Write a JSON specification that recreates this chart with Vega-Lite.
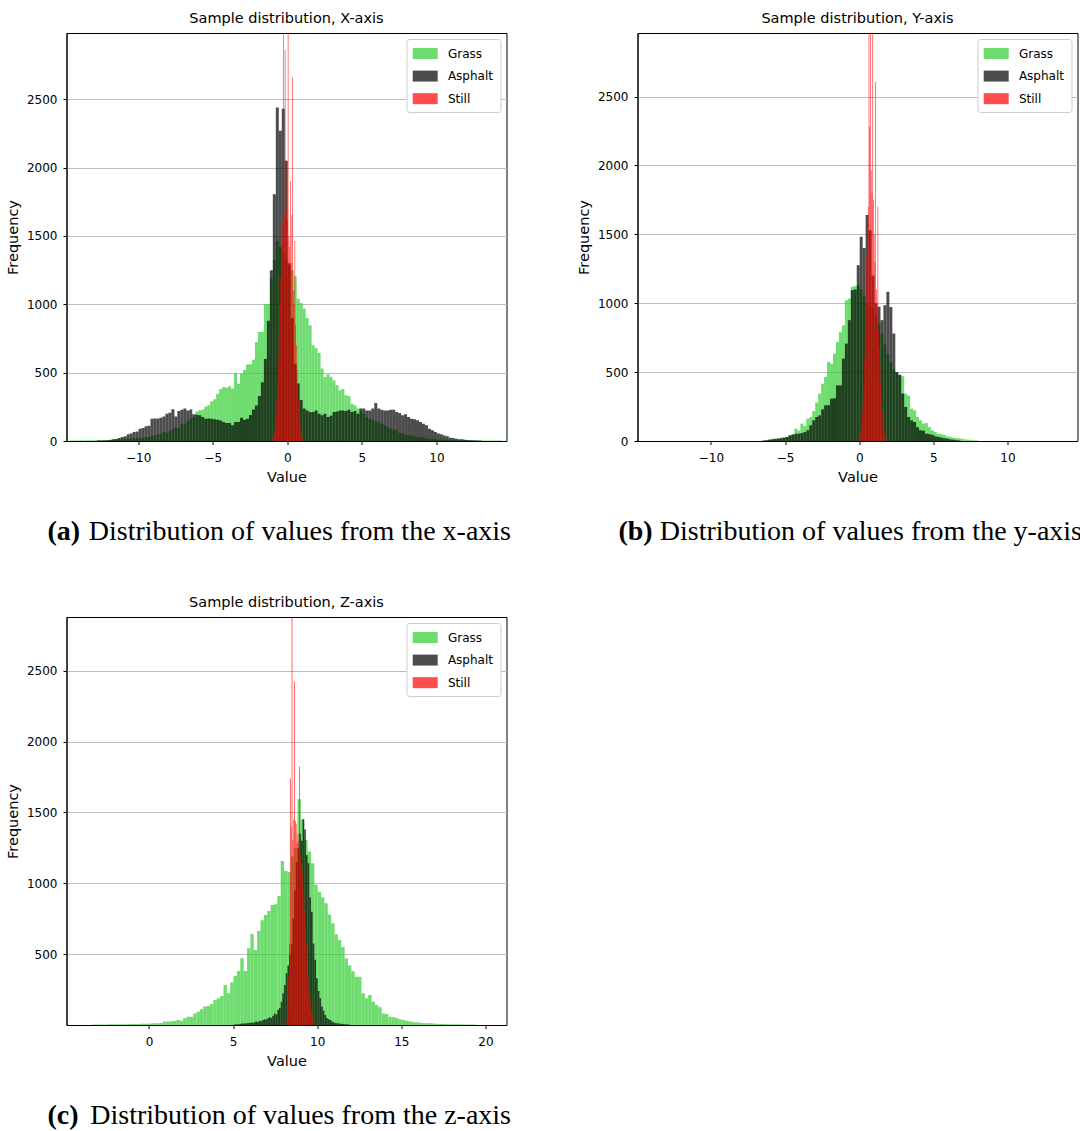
{
  "$schema": "https://vega.github.io/schema/vega-lite/v6.json",
  "background": "white",
  "padding": {"left": 4.5, "top": 10, "right": 0, "bottom": 0},
  "config": {
    "font": "DejaVu Sans",
    "view": {"stroke": "black", "strokeWidth": 1},
    "axis": {"labelFont": "DejaVu Sans", "labelFontSize": 12, "labelColor": "black", "titleFont": "DejaVu Sans", "titleFontSize": 14.5, "titleFontWeight": "normal", "titleColor": "black", "tickColor": "black", "tickSize": 3.5, "tickWidth": 1, "domain": true, "domainColor": "black", "domainWidth": 1, "zindex": 1},
    "axisX": {"grid": false, "labelPadding": 8, "titlePadding": 7},
    "axisY": {"grid": true, "gridColor": "#bdbdbd", "gridWidth": 1, "labelPadding": 6, "titlePadding": 6},
    "title": {"font": "DejaVu Sans", "fontSize": 14.5, "fontWeight": "normal", "color": "black", "offset": 7},
    "legend": {"orient": "top-right", "offset": 6, "fillColor": "white", "strokeColor": "#cccccc", "strokeWidth": 1, "cornerRadius": 3, "padding": 7, "labelFont": "DejaVu Sans", "labelFontSize": 12, "labelColor": "black", "symbolType": "M-1.667,-0.733H1.667V0.733H-1.667Z", "symbolSize": 225, "symbolStrokeWidth": 0, "symbolOpacity": 0.7, "rowPadding": 8.6, "labelOffset": 15.2, "symbolOffset": 4.2, "zindex": 2}
  },
  "datasets": {
    "a": [
      {"s":"G","x":-14.6,"n":3},{"s":"G","x":-14.4,"n":4},{"s":"G","x":-14.2,"n":3},{"s":"G","x":-14.0,"n":5},{"s":"G","x":-13.8,"n":4},{"s":"G","x":-13.6,"n":5},{"s":"G","x":-13.4,"n":6},{"s":"G","x":-13.2,"n":5},{"s":"G","x":-13.0,"n":6},{"s":"G","x":-12.8,"n":7},{"s":"G","x":-12.6,"n":6},{"s":"G","x":-12.4,"n":8},{"s":"G","x":-12.2,"n":8},{"s":"G","x":-12.0,"n":9},{"s":"G","x":-11.8,"n":10},{"s":"G","x":-11.6,"n":11},{"s":"G","x":-11.4,"n":12},{"s":"G","x":-11.2,"n":13},{"s":"G","x":-11.0,"n":15},{"s":"G","x":-10.8,"n":17},{"s":"G","x":-10.6,"n":18},{"s":"G","x":-10.4,"n":20},{"s":"G","x":-10.2,"n":22},{"s":"G","x":-10.0,"n":25},{"s":"G","x":-9.8,"n":25},{"s":"G","x":-9.6,"n":28},{"s":"G","x":-9.4,"n":30},{"s":"G","x":-9.2,"n":40},{"s":"G","x":-9.0,"n":42},{"s":"G","x":-8.8,"n":50},{"s":"G","x":-8.6,"n":52},{"s":"G","x":-8.4,"n":65},{"s":"G","x":-8.2,"n":58},{"s":"G","x":-8.0,"n":75},{"s":"G","x":-7.8,"n":90},{"s":"G","x":-7.6,"n":100},{"s":"G","x":-7.4,"n":95},{"s":"G","x":-7.2,"n":127},{"s":"G","x":-7.0,"n":122},{"s":"G","x":-6.8,"n":150},{"s":"G","x":-6.6,"n":165},{"s":"G","x":-6.4,"n":175},{"s":"G","x":-6.2,"n":215},{"s":"G","x":-6.0,"n":225},{"s":"G","x":-5.8,"n":228},{"s":"G","x":-5.6,"n":250},{"s":"G","x":-5.4,"n":262},{"s":"G","x":-5.2,"n":290},{"s":"G","x":-5.0,"n":305},{"s":"G","x":-4.8,"n":345},{"s":"G","x":-4.6,"n":380},{"s":"G","x":-4.4,"n":395},{"s":"G","x":-4.2,"n":390},{"s":"G","x":-4.0,"n":400},{"s":"G","x":-3.8,"n":385},{"s":"G","x":-3.6,"n":498},{"s":"G","x":-3.4,"n":418},{"s":"G","x":-3.2,"n":493},{"s":"G","x":-3.0,"n":520},{"s":"G","x":-2.8,"n":560},{"s":"G","x":-2.6,"n":562},{"s":"G","x":-2.4,"n":595},{"s":"G","x":-2.2,"n":725},{"s":"G","x":-2.0,"n":798},{"s":"G","x":-1.8,"n":798},{"s":"G","x":-1.6,"n":1000},{"s":"G","x":-1.4,"n":1000},{"s":"G","x":-1.2,"n":1188},{"s":"G","x":-1.0,"n":1322},{"s":"G","x":-0.8,"n":1464},{"s":"G","x":-0.6,"n":1420},{"s":"G","x":-0.4,"n":1380},{"s":"G","x":-0.2,"n":1330},{"s":"G","x":0.0,"n":1286},{"s":"G","x":0.2,"n":1250},{"s":"G","x":0.4,"n":1205},{"s":"G","x":0.6,"n":1041},{"s":"G","x":0.8,"n":1010},{"s":"G","x":1.0,"n":969},{"s":"G","x":1.2,"n":900},{"s":"G","x":1.4,"n":847},{"s":"G","x":1.6,"n":700},{"s":"G","x":1.8,"n":680},{"s":"G","x":2.0,"n":644},{"s":"G","x":2.2,"n":530},{"s":"G","x":2.4,"n":468},{"s":"G","x":2.6,"n":488},{"s":"G","x":2.8,"n":470},{"s":"G","x":3.0,"n":444},{"s":"G","x":3.2,"n":407},{"s":"G","x":3.4,"n":371},{"s":"G","x":3.6,"n":380},{"s":"G","x":3.8,"n":334},{"s":"G","x":4.0,"n":330},{"s":"G","x":4.2,"n":273},{"s":"G","x":4.4,"n":261},{"s":"G","x":4.6,"n":237},{"s":"G","x":4.8,"n":224},{"s":"G","x":5.0,"n":200},{"s":"G","x":5.2,"n":176},{"s":"G","x":5.4,"n":163},{"s":"G","x":5.6,"n":158},{"s":"G","x":5.8,"n":145},{"s":"G","x":6.0,"n":140},{"s":"G","x":6.2,"n":127},{"s":"G","x":6.4,"n":115},{"s":"G","x":6.6,"n":100},{"s":"G","x":6.8,"n":90},{"s":"G","x":7.0,"n":88},{"s":"G","x":7.2,"n":78},{"s":"G","x":7.4,"n":60},{"s":"G","x":7.6,"n":54},{"s":"G","x":7.8,"n":45},{"s":"G","x":8.0,"n":42},{"s":"G","x":8.2,"n":41},{"s":"G","x":8.4,"n":35},{"s":"G","x":8.6,"n":30},{"s":"G","x":8.8,"n":29},{"s":"G","x":9.0,"n":25},{"s":"G","x":9.2,"n":20},{"s":"G","x":9.4,"n":17},{"s":"G","x":9.6,"n":15},{"s":"G","x":9.8,"n":12},{"s":"G","x":10.0,"n":10},{"s":"G","x":10.2,"n":10},{"s":"G","x":10.4,"n":8},{"s":"G","x":10.6,"n":8},{"s":"G","x":10.8,"n":7},{"s":"G","x":11.0,"n":6},{"s":"G","x":11.2,"n":6},{"s":"G","x":11.4,"n":5},{"s":"G","x":11.6,"n":5},{"s":"G","x":11.8,"n":5},{"s":"G","x":12.0,"n":4},{"s":"G","x":12.2,"n":4},{"s":"G","x":12.4,"n":4},{"s":"G","x":12.6,"n":3},{"s":"G","x":12.8,"n":3},{"s":"G","x":13.0,"n":3},{"s":"G","x":13.2,"n":3},{"s":"G","x":13.4,"n":3},{"s":"G","x":13.6,"n":3},{"s":"G","x":13.8,"n":3},{"s":"G","x":14.0,"n":3},{"s":"G","x":14.2,"n":3},
      {"s":"A","x":-12.8,"n":3},{"s":"A","x":-12.6,"n":3},{"s":"A","x":-12.4,"n":4},{"s":"A","x":-12.2,"n":6},{"s":"A","x":-12.0,"n":8},{"s":"A","x":-11.8,"n":12},{"s":"A","x":-11.6,"n":15},{"s":"A","x":-11.4,"n":22},{"s":"A","x":-11.2,"n":30},{"s":"A","x":-11.0,"n":34},{"s":"A","x":-10.8,"n":49},{"s":"A","x":-10.6,"n":55},{"s":"A","x":-10.4,"n":66},{"s":"A","x":-10.2,"n":70},{"s":"A","x":-10.0,"n":90},{"s":"A","x":-9.8,"n":95},{"s":"A","x":-9.6,"n":107},{"s":"A","x":-9.4,"n":112},{"s":"A","x":-9.2,"n":163},{"s":"A","x":-9.0,"n":165},{"s":"A","x":-8.8,"n":165},{"s":"A","x":-8.6,"n":170},{"s":"A","x":-8.4,"n":180},{"s":"A","x":-8.2,"n":200},{"s":"A","x":-8.0,"n":207},{"s":"A","x":-7.8,"n":232},{"s":"A","x":-7.6,"n":180},{"s":"A","x":-7.4,"n":220},{"s":"A","x":-7.2,"n":229},{"s":"A","x":-7.0,"n":237},{"s":"A","x":-6.8,"n":224},{"s":"A","x":-6.6,"n":230},{"s":"A","x":-6.4,"n":195},{"s":"A","x":-6.2,"n":192},{"s":"A","x":-6.0,"n":188},{"s":"A","x":-5.8,"n":176},{"s":"A","x":-5.6,"n":163},{"s":"A","x":-5.4,"n":165},{"s":"A","x":-5.2,"n":163},{"s":"A","x":-5.0,"n":160},{"s":"A","x":-4.8,"n":156},{"s":"A","x":-4.6,"n":150},{"s":"A","x":-4.4,"n":139},{"s":"A","x":-4.2,"n":132},{"s":"A","x":-4.0,"n":132},{"s":"A","x":-3.8,"n":115},{"s":"A","x":-3.6,"n":139},{"s":"A","x":-3.4,"n":139},{"s":"A","x":-3.2,"n":171},{"s":"A","x":-3.0,"n":156},{"s":"A","x":-2.8,"n":163},{"s":"A","x":-2.6,"n":190},{"s":"A","x":-2.4,"n":230},{"s":"A","x":-2.2,"n":260},{"s":"A","x":-2.0,"n":330},{"s":"A","x":-1.8,"n":430},{"s":"A","x":-1.6,"n":600},{"s":"A","x":-1.4,"n":880},{"s":"A","x":-1.2,"n":1250},{"s":"A","x":-1.0,"n":1806},{"s":"A","x":-0.8,"n":2440},{"s":"A","x":-0.6,"n":2269},{"s":"A","x":-0.4,"n":2430},{"s":"A","x":-0.2,"n":2050},{"s":"A","x":0.0,"n":1300},{"s":"A","x":0.2,"n":900},{"s":"A","x":0.4,"n":566},{"s":"A","x":0.6,"n":420},{"s":"A","x":0.8,"n":300},{"s":"A","x":1.0,"n":237},{"s":"A","x":1.2,"n":224},{"s":"A","x":1.4,"n":212},{"s":"A","x":1.6,"n":212},{"s":"A","x":1.8,"n":224},{"s":"A","x":2.0,"n":200},{"s":"A","x":2.2,"n":188},{"s":"A","x":2.4,"n":200},{"s":"A","x":2.6,"n":176},{"s":"A","x":2.8,"n":185},{"s":"A","x":3.0,"n":212},{"s":"A","x":3.2,"n":215},{"s":"A","x":3.4,"n":224},{"s":"A","x":3.6,"n":224},{"s":"A","x":3.8,"n":220},{"s":"A","x":4.0,"n":229},{"s":"A","x":4.2,"n":212},{"s":"A","x":4.4,"n":220},{"s":"A","x":4.6,"n":200},{"s":"A","x":4.8,"n":237},{"s":"A","x":5.0,"n":237},{"s":"A","x":5.2,"n":224},{"s":"A","x":5.4,"n":224},{"s":"A","x":5.6,"n":237},{"s":"A","x":5.8,"n":278},{"s":"A","x":6.0,"n":237},{"s":"A","x":6.2,"n":229},{"s":"A","x":6.4,"n":224},{"s":"A","x":6.6,"n":224},{"s":"A","x":6.8,"n":229},{"s":"A","x":7.0,"n":229},{"s":"A","x":7.2,"n":212},{"s":"A","x":7.4,"n":205},{"s":"A","x":7.6,"n":188},{"s":"A","x":7.8,"n":195},{"s":"A","x":8.0,"n":176},{"s":"A","x":8.2,"n":163},{"s":"A","x":8.4,"n":160},{"s":"A","x":8.6,"n":151},{"s":"A","x":8.8,"n":139},{"s":"A","x":9.0,"n":127},{"s":"A","x":9.2,"n":115},{"s":"A","x":9.4,"n":90},{"s":"A","x":9.6,"n":78},{"s":"A","x":9.8,"n":66},{"s":"A","x":10.0,"n":54},{"s":"A","x":10.2,"n":50},{"s":"A","x":10.4,"n":40},{"s":"A","x":10.6,"n":34},{"s":"A","x":10.8,"n":24},{"s":"A","x":11.0,"n":22},{"s":"A","x":11.2,"n":17},{"s":"A","x":11.4,"n":12},{"s":"A","x":11.6,"n":12},{"s":"A","x":11.8,"n":10},{"s":"A","x":12.0,"n":8},{"s":"A","x":12.2,"n":6},{"s":"A","x":12.4,"n":5},{"s":"A","x":12.6,"n":4},{"s":"A","x":12.8,"n":3},
      {"s":"S","x":-1.0,"n":20},{"s":"S","x":-0.95,"n":40},{"s":"S","x":-0.9,"n":78},{"s":"S","x":-0.85,"n":120},{"s":"S","x":-0.8,"n":200},{"s":"S","x":-0.75,"n":300},{"s":"S","x":-0.7,"n":444},{"s":"S","x":-0.65,"n":600},{"s":"S","x":-0.6,"n":810},{"s":"S","x":-0.55,"n":1000},{"s":"S","x":-0.5,"n":1200},{"s":"S","x":-0.45,"n":1395},{"s":"S","x":-0.4,"n":1500},{"s":"S","x":-0.35,"n":1591},{"s":"S","x":-0.3,"n":3400},{"s":"S","x":-0.25,"n":1650},{"s":"S","x":-0.2,"n":2860},{"s":"S","x":-0.15,"n":2054},{"s":"S","x":-0.1,"n":1700},{"s":"S","x":-0.05,"n":1620},{"s":"S","x":0.0,"n":3400},{"s":"S","x":0.05,"n":1500},{"s":"S","x":0.1,"n":1420},{"s":"S","x":0.15,"n":1903},{"s":"S","x":0.2,"n":1300},{"s":"S","x":0.25,"n":1652},{"s":"S","x":0.3,"n":2660},{"s":"S","x":0.35,"n":1100},{"s":"S","x":0.4,"n":1000},{"s":"S","x":0.45,"n":1464},{"s":"S","x":0.5,"n":850},{"s":"S","x":0.55,"n":700},{"s":"S","x":0.6,"n":520},{"s":"S","x":0.65,"n":400},{"s":"S","x":0.7,"n":300},{"s":"S","x":0.75,"n":200},{"s":"S","x":0.8,"n":120},{"s":"S","x":0.85,"n":80},{"s":"S","x":0.9,"n":50},{"s":"S","x":0.95,"n":30}
    ],
    "b": [
      {"s":"G","x":-6.4,"n":4},{"s":"G","x":-6.2,"n":8},{"s":"G","x":-6.0,"n":15},{"s":"G","x":-5.8,"n":17},{"s":"G","x":-5.6,"n":20},{"s":"G","x":-5.4,"n":24},{"s":"G","x":-5.2,"n":24},{"s":"G","x":-5.0,"n":30},{"s":"G","x":-4.8,"n":41},{"s":"G","x":-4.6,"n":45},{"s":"G","x":-4.4,"n":90},{"s":"G","x":-4.2,"n":75},{"s":"G","x":-4.0,"n":126},{"s":"G","x":-3.8,"n":110},{"s":"G","x":-3.6,"n":162},{"s":"G","x":-3.4,"n":175},{"s":"G","x":-3.2,"n":218},{"s":"G","x":-3.0,"n":280},{"s":"G","x":-2.8,"n":344},{"s":"G","x":-2.6,"n":416},{"s":"G","x":-2.4,"n":465},{"s":"G","x":-2.2,"n":574},{"s":"G","x":-2.0,"n":560},{"s":"G","x":-1.8,"n":634},{"s":"G","x":-1.6,"n":719},{"s":"G","x":-1.4,"n":792},{"s":"G","x":-1.2,"n":840},{"s":"G","x":-1.0,"n":1022},{"s":"G","x":-0.8,"n":1034},{"s":"G","x":-0.6,"n":1119},{"s":"G","x":-0.4,"n":1125},{"s":"G","x":-0.2,"n":1131},{"s":"G","x":0.0,"n":1100},{"s":"G","x":0.2,"n":1050},{"s":"G","x":0.4,"n":1000},{"s":"G","x":0.6,"n":980},{"s":"G","x":0.8,"n":970},{"s":"G","x":1.0,"n":900},{"s":"G","x":1.2,"n":850},{"s":"G","x":1.4,"n":780},{"s":"G","x":1.6,"n":700},{"s":"G","x":1.8,"n":630},{"s":"G","x":2.0,"n":570},{"s":"G","x":2.2,"n":520},{"s":"G","x":2.4,"n":494},{"s":"G","x":2.6,"n":480},{"s":"G","x":2.8,"n":470},{"s":"G","x":3.0,"n":344},{"s":"G","x":3.2,"n":330},{"s":"G","x":3.4,"n":235},{"s":"G","x":3.6,"n":223},{"s":"G","x":3.8,"n":174},{"s":"G","x":4.0,"n":150},{"s":"G","x":4.2,"n":126},{"s":"G","x":4.4,"n":130},{"s":"G","x":4.6,"n":100},{"s":"G","x":4.8,"n":78},{"s":"G","x":5.0,"n":65},{"s":"G","x":5.2,"n":53},{"s":"G","x":5.4,"n":50},{"s":"G","x":5.6,"n":45},{"s":"G","x":5.8,"n":34},{"s":"G","x":6.0,"n":30},{"s":"G","x":6.2,"n":24},{"s":"G","x":6.4,"n":22},{"s":"G","x":6.6,"n":19},{"s":"G","x":6.8,"n":17},{"s":"G","x":7.0,"n":12},{"s":"G","x":7.2,"n":10},{"s":"G","x":7.4,"n":8},{"s":"G","x":7.6,"n":5},{"s":"G","x":7.8,"n":4},
      {"s":"A","x":-6.6,"n":4},{"s":"A","x":-6.4,"n":6},{"s":"A","x":-6.2,"n":10},{"s":"A","x":-6.0,"n":12},{"s":"A","x":-5.8,"n":15},{"s":"A","x":-5.6,"n":17},{"s":"A","x":-5.4,"n":20},{"s":"A","x":-5.2,"n":25},{"s":"A","x":-5.0,"n":29},{"s":"A","x":-4.8,"n":41},{"s":"A","x":-4.6,"n":48},{"s":"A","x":-4.4,"n":53},{"s":"A","x":-4.2,"n":53},{"s":"A","x":-4.0,"n":58},{"s":"A","x":-3.8,"n":65},{"s":"A","x":-3.6,"n":78},{"s":"A","x":-3.4,"n":114},{"s":"A","x":-3.2,"n":150},{"s":"A","x":-3.0,"n":174},{"s":"A","x":-2.8,"n":186},{"s":"A","x":-2.6,"n":230},{"s":"A","x":-2.4,"n":259},{"s":"A","x":-2.2,"n":260},{"s":"A","x":-2.0,"n":307},{"s":"A","x":-1.8,"n":310},{"s":"A","x":-1.6,"n":404},{"s":"A","x":-1.4,"n":404},{"s":"A","x":-1.2,"n":598},{"s":"A","x":-1.0,"n":707},{"s":"A","x":-0.8,"n":877},{"s":"A","x":-0.6,"n":1095},{"s":"A","x":-0.4,"n":1100},{"s":"A","x":-0.2,"n":1276},{"s":"A","x":0.0,"n":1482},{"s":"A","x":0.2,"n":1400},{"s":"A","x":0.4,"n":1640},{"s":"A","x":0.6,"n":1530},{"s":"A","x":0.8,"n":1200},{"s":"A","x":1.0,"n":1000},{"s":"A","x":1.2,"n":974},{"s":"A","x":1.4,"n":877},{"s":"A","x":1.6,"n":986},{"s":"A","x":1.8,"n":1083},{"s":"A","x":2.0,"n":973},{"s":"A","x":2.2,"n":780},{"s":"A","x":2.4,"n":501},{"s":"A","x":2.6,"n":480},{"s":"A","x":2.8,"n":344},{"s":"A","x":3.0,"n":247},{"s":"A","x":3.2,"n":174},{"s":"A","x":3.4,"n":150},{"s":"A","x":3.6,"n":138},{"s":"A","x":3.8,"n":100},{"s":"A","x":4.0,"n":78},{"s":"A","x":4.2,"n":75},{"s":"A","x":4.4,"n":53},{"s":"A","x":4.6,"n":50},{"s":"A","x":4.8,"n":45},{"s":"A","x":5.0,"n":34},{"s":"A","x":5.2,"n":30},{"s":"A","x":5.4,"n":25},{"s":"A","x":5.6,"n":20},{"s":"A","x":5.8,"n":17},{"s":"A","x":6.0,"n":12},{"s":"A","x":6.2,"n":10},{"s":"A","x":6.4,"n":6},{"s":"A","x":6.6,"n":4},
      {"s":"S","x":0.0,"n":40},{"s":"S","x":0.05,"n":80},{"s":"S","x":0.1,"n":126},{"s":"S","x":0.15,"n":200},{"s":"S","x":0.2,"n":271},{"s":"S","x":0.25,"n":400},{"s":"S","x":0.3,"n":600},{"s":"S","x":0.35,"n":800},{"s":"S","x":0.4,"n":1000},{"s":"S","x":0.45,"n":1336},{"s":"S","x":0.5,"n":1500},{"s":"S","x":0.55,"n":1700},{"s":"S","x":0.6,"n":3400},{"s":"S","x":0.65,"n":2280},{"s":"S","x":0.7,"n":3400},{"s":"S","x":0.75,"n":1965},{"s":"S","x":0.8,"n":1800},{"s":"S","x":0.85,"n":3400},{"s":"S","x":0.9,"n":1750},{"s":"S","x":0.95,"n":1500},{"s":"S","x":1.0,"n":1300},{"s":"S","x":1.05,"n":2606},{"s":"S","x":1.1,"n":1100},{"s":"S","x":1.15,"n":973},{"s":"S","x":1.2,"n":1700},{"s":"S","x":1.25,"n":800},{"s":"S","x":1.3,"n":683},{"s":"S","x":1.35,"n":550},{"s":"S","x":1.4,"n":420},{"s":"S","x":1.45,"n":320},{"s":"S","x":1.5,"n":220},{"s":"S","x":1.55,"n":126},{"s":"S","x":1.6,"n":80},{"s":"S","x":1.65,"n":50},{"s":"S","x":1.7,"n":30},{"s":"S","x":1.75,"n":15}
    ],
    "c": [
      {"s":"G","x":-3.4,"n":3},{"s":"G","x":-3.2,"n":3},{"s":"G","x":-3.0,"n":4},{"s":"G","x":-2.8,"n":4},{"s":"G","x":-2.6,"n":4},{"s":"G","x":-2.4,"n":5},{"s":"G","x":-2.2,"n":5},{"s":"G","x":-2.0,"n":5},{"s":"G","x":-1.8,"n":6},{"s":"G","x":-1.6,"n":6},{"s":"G","x":-1.4,"n":6},{"s":"G","x":-1.2,"n":7},{"s":"G","x":-1.0,"n":7},{"s":"G","x":-0.8,"n":7},{"s":"G","x":-0.6,"n":8},{"s":"G","x":-0.4,"n":8},{"s":"G","x":-0.2,"n":9},{"s":"G","x":0.0,"n":10},{"s":"G","x":0.2,"n":12},{"s":"G","x":0.4,"n":12},{"s":"G","x":0.6,"n":14},{"s":"G","x":0.8,"n":24},{"s":"G","x":1.0,"n":24},{"s":"G","x":1.2,"n":26},{"s":"G","x":1.4,"n":28},{"s":"G","x":1.6,"n":35},{"s":"G","x":1.8,"n":30},{"s":"G","x":2.0,"n":47},{"s":"G","x":2.2,"n":59},{"s":"G","x":2.4,"n":59},{"s":"G","x":2.6,"n":82},{"s":"G","x":2.8,"n":94},{"s":"G","x":3.0,"n":111},{"s":"G","x":3.2,"n":130},{"s":"G","x":3.4,"n":135},{"s":"G","x":3.6,"n":148},{"s":"G","x":3.8,"n":177},{"s":"G","x":4.0,"n":188},{"s":"G","x":4.2,"n":205},{"s":"G","x":4.4,"n":282},{"s":"G","x":4.6,"n":224},{"s":"G","x":4.8,"n":300},{"s":"G","x":5.0,"n":346},{"s":"G","x":5.2,"n":381},{"s":"G","x":5.4,"n":471},{"s":"G","x":5.6,"n":381},{"s":"G","x":5.8,"n":541},{"s":"G","x":6.0,"n":643},{"s":"G","x":6.2,"n":530},{"s":"G","x":6.4,"n":664},{"s":"G","x":6.6,"n":740},{"s":"G","x":6.8,"n":777},{"s":"G","x":7.0,"n":805},{"s":"G","x":7.2,"n":847},{"s":"G","x":7.4,"n":852},{"s":"G","x":7.6,"n":911},{"s":"G","x":7.8,"n":1158},{"s":"G","x":8.0,"n":1087},{"s":"G","x":8.2,"n":1080},{"s":"G","x":8.4,"n":1190},{"s":"G","x":8.6,"n":1250},{"s":"G","x":8.8,"n":1594},{"s":"G","x":9.0,"n":1452},{"s":"G","x":9.2,"n":1306},{"s":"G","x":9.4,"n":1224},{"s":"G","x":9.6,"n":1142},{"s":"G","x":9.8,"n":990},{"s":"G","x":10.0,"n":941},{"s":"G","x":10.2,"n":900},{"s":"G","x":10.4,"n":860},{"s":"G","x":10.6,"n":780},{"s":"G","x":10.8,"n":718},{"s":"G","x":11.0,"n":640},{"s":"G","x":11.2,"n":600},{"s":"G","x":11.4,"n":550},{"s":"G","x":11.6,"n":470},{"s":"G","x":11.8,"n":420},{"s":"G","x":12.0,"n":380},{"s":"G","x":12.2,"n":341},{"s":"G","x":12.4,"n":341},{"s":"G","x":12.6,"n":224},{"s":"G","x":12.8,"n":188},{"s":"G","x":13.0,"n":212},{"s":"G","x":13.2,"n":165},{"s":"G","x":13.4,"n":141},{"s":"G","x":13.6,"n":125},{"s":"G","x":13.8,"n":82},{"s":"G","x":14.0,"n":78},{"s":"G","x":14.2,"n":59},{"s":"G","x":14.4,"n":54},{"s":"G","x":14.6,"n":50},{"s":"G","x":14.8,"n":40},{"s":"G","x":15.0,"n":35},{"s":"G","x":15.2,"n":30},{"s":"G","x":15.4,"n":24},{"s":"G","x":15.6,"n":20},{"s":"G","x":15.8,"n":19},{"s":"G","x":16.0,"n":16},{"s":"G","x":16.2,"n":14},{"s":"G","x":16.4,"n":12},{"s":"G","x":16.6,"n":12},{"s":"G","x":16.8,"n":10},{"s":"G","x":17.0,"n":8},{"s":"G","x":17.2,"n":7},{"s":"G","x":17.4,"n":7},{"s":"G","x":17.6,"n":6},{"s":"G","x":17.8,"n":6},{"s":"G","x":18.0,"n":5},{"s":"G","x":18.2,"n":5},{"s":"G","x":18.4,"n":5},{"s":"G","x":18.6,"n":4},{"s":"G","x":18.8,"n":4},{"s":"G","x":19.0,"n":3},{"s":"G","x":19.2,"n":3},
      {"s":"A","x":5.0,"n":4},{"s":"A","x":5.1,"n":5},{"s":"A","x":5.2,"n":5},{"s":"A","x":5.3,"n":6},{"s":"A","x":5.4,"n":8},{"s":"A","x":5.5,"n":10},{"s":"A","x":5.6,"n":12},{"s":"A","x":5.7,"n":10},{"s":"A","x":5.8,"n":14},{"s":"A","x":5.9,"n":15},{"s":"A","x":6.0,"n":18},{"s":"A","x":6.1,"n":14},{"s":"A","x":6.2,"n":20},{"s":"A","x":6.3,"n":24},{"s":"A","x":6.4,"n":22},{"s":"A","x":6.5,"n":30},{"s":"A","x":6.6,"n":28},{"s":"A","x":6.7,"n":35},{"s":"A","x":6.8,"n":40},{"s":"A","x":6.9,"n":38},{"s":"A","x":7.0,"n":47},{"s":"A","x":7.1,"n":55},{"s":"A","x":7.2,"n":50},{"s":"A","x":7.3,"n":65},{"s":"A","x":7.4,"n":82},{"s":"A","x":7.5,"n":75},{"s":"A","x":7.6,"n":106},{"s":"A","x":7.7,"n":120},{"s":"A","x":7.8,"n":165},{"s":"A","x":7.9,"n":224},{"s":"A","x":8.0,"n":282},{"s":"A","x":8.1,"n":365},{"s":"A","x":8.2,"n":420},{"s":"A","x":8.3,"n":494},{"s":"A","x":8.4,"n":570},{"s":"A","x":8.5,"n":750},{"s":"A","x":8.6,"n":950},{"s":"A","x":8.7,"n":1150},{"s":"A","x":8.8,"n":1250},{"s":"A","x":8.9,"n":1350},{"s":"A","x":9.0,"n":1300},{"s":"A","x":9.1,"n":1452},{"s":"A","x":9.2,"n":1380},{"s":"A","x":9.3,"n":1200},{"s":"A","x":9.4,"n":1142},{"s":"A","x":9.5,"n":900},{"s":"A","x":9.6,"n":800},{"s":"A","x":9.7,"n":576},{"s":"A","x":9.8,"n":460},{"s":"A","x":9.9,"n":330},{"s":"A","x":10.0,"n":240},{"s":"A","x":10.1,"n":190},{"s":"A","x":10.2,"n":130},{"s":"A","x":10.3,"n":100},{"s":"A","x":10.4,"n":70},{"s":"A","x":10.5,"n":50},{"s":"A","x":10.6,"n":40},{"s":"A","x":10.7,"n":35},{"s":"A","x":10.8,"n":25},{"s":"A","x":10.9,"n":20},{"s":"A","x":11.0,"n":15},{"s":"A","x":11.1,"n":12},{"s":"A","x":11.2,"n":10},{"s":"A","x":11.3,"n":8},{"s":"A","x":11.4,"n":8},{"s":"A","x":11.5,"n":6},{"s":"A","x":11.6,"n":5},{"s":"A","x":11.7,"n":4},{"s":"A","x":11.8,"n":4},
      {"s":"S","x":8.15,"n":30},{"s":"S","x":8.2,"n":106},{"s":"S","x":8.25,"n":340},{"s":"S","x":8.3,"n":575},{"s":"S","x":8.35,"n":1742},{"s":"S","x":8.4,"n":1400},{"s":"S","x":8.45,"n":3400},{"s":"S","x":8.5,"n":1306},{"s":"S","x":8.55,"n":1450},{"s":"S","x":8.6,"n":2425},{"s":"S","x":8.65,"n":1440},{"s":"S","x":8.7,"n":1420},{"s":"S","x":8.75,"n":1283},{"s":"S","x":8.8,"n":1350},{"s":"S","x":8.85,"n":1300},{"s":"S","x":8.9,"n":1824},{"s":"S","x":8.95,"n":1200},{"s":"S","x":9.0,"n":1140},{"s":"S","x":9.05,"n":1100},{"s":"S","x":9.1,"n":1000},{"s":"S","x":9.15,"n":900},{"s":"S","x":9.2,"n":800},{"s":"S","x":9.25,"n":700},{"s":"S","x":9.3,"n":570},{"s":"S","x":9.35,"n":450},{"s":"S","x":9.4,"n":340},{"s":"S","x":9.45,"n":260},{"s":"S","x":9.5,"n":220},{"s":"S","x":9.55,"n":160},{"s":"S","x":9.6,"n":100},{"s":"S","x":9.65,"n":70},{"s":"S","x":9.7,"n":40},{"s":"S","x":9.75,"n":20}
    ]
  },
  "resolve": {"scale": {"color": "independent"}, "legend": {"color": "independent"}},
  "spacing": 48,
  "vconcat": [
    {
      "hconcat": [
        {
          "vconcat": [
            {
              "vconcat": [
                {
                  "width": 440, "height": 408,
                  "title": {"text": "Sample distribution, X-axis", "frame": "group"},
                  "data": {"name": "a"},
                  "encoding": {
                    "y": {"field": "n", "type": "quantitative", "stack": null, "scale": {"domain": [0, 2985], "nice": false, "zero": false}, "axis": {"values": [0, 500, 1000, 1500, 2000, 2500], "format": "d", "title": "Frequency"}},
                    "color": {"field": "s", "type": "nominal", "scale": {"domain": ["G", "A", "S"], "range": ["limegreen", "black", "red"]}, "legend": {"title": null, "labelExpr": "datum.label === 'G' ? 'Grass' : datum.label === 'A' ? 'Asphalt' : 'Still'"}}
                  },
                  "layer": [
                    {"transform": [{"filter": "datum.s === 'G'"}], "mark": {"type": "bar", "opacity": 0.7, "binSpacing": 0, "clip": true}, "encoding": {"x": {"field": "x", "type": "quantitative", "bin": {"binned": true, "step": 0.2}, "scale": {"domain": [-14.8, 14.7], "nice": false, "zero": false}, "axis": {"values": [-10, -5, 0, 5, 10], "format": "d", "title": "Value"}}}},
                    {"transform": [{"filter": "datum.s === 'A'"}], "mark": {"type": "bar", "opacity": 0.7, "binSpacing": 0, "clip": true}, "encoding": {"x": {"field": "x", "type": "quantitative", "bin": {"binned": true, "step": 0.2}, "scale": {"domain": [-14.8, 14.7], "nice": false, "zero": false}, "axis": {"values": [-10, -5, 0, 5, 10], "format": "d", "title": "Value"}}}},
                    {"transform": [{"filter": "datum.s === 'S'"}], "mark": {"type": "bar", "opacity": 0.7, "binSpacing": 0, "clip": true}, "encoding": {"x": {"field": "x", "type": "quantitative", "bin": {"binned": true, "step": 0.05}, "scale": {"domain": [-14.8, 14.7], "nice": false, "zero": false}, "axis": {"values": [-10, -5, 0, 5, 10], "format": "d", "title": "Value"}}}}
                  ]
                }
              ],
              "title": {"text": "Distribution of values from the x-axis", "orient": "bottom", "anchor": "end", "frame": "bounds", "font": "Liberation Serif", "fontSize": 28, "fontWeight": "normal", "offset": 33, "dx": 4},
              "resolve": {"scale": {"color": "independent"}, "legend": {"color": "independent"}}
            }
          ],
          "title": {"text": "(a)", "orient": "bottom", "anchor": "start", "frame": "bounds", "font": "Liberation Serif", "fontSize": 28, "fontWeight": "bold", "offset": -28, "dx": 42.5},
          "resolve": {"scale": {"color": "independent"}, "legend": {"color": "independent"}}
        },
        {
          "vconcat": [
            {
              "vconcat": [
                {
                  "width": 440, "height": 408,
                  "title": {"text": "Sample distribution, Y-axis", "frame": "group"},
                  "data": {"name": "b"},
                  "encoding": {
                    "y": {"field": "n", "type": "quantitative", "stack": null, "scale": {"domain": [0, 2961], "nice": false, "zero": false}, "axis": {"values": [0, 500, 1000, 1500, 2000, 2500], "format": "d", "title": "Frequency"}},
                    "color": {"field": "s", "type": "nominal", "scale": {"domain": ["G", "A", "S"], "range": ["limegreen", "black", "red"]}, "legend": {"title": null, "labelExpr": "datum.label === 'G' ? 'Grass' : datum.label === 'A' ? 'Asphalt' : 'Still'"}}
                  },
                  "layer": [
                    {"transform": [{"filter": "datum.s === 'G'"}], "mark": {"type": "bar", "opacity": 0.7, "binSpacing": 0, "clip": true}, "encoding": {"x": {"field": "x", "type": "quantitative", "bin": {"binned": true, "step": 0.2}, "scale": {"domain": [-14.95, 14.72], "nice": false, "zero": false}, "axis": {"values": [-10, -5, 0, 5, 10], "format": "d", "title": "Value"}}}},
                    {"transform": [{"filter": "datum.s === 'A'"}], "mark": {"type": "bar", "opacity": 0.7, "binSpacing": 0, "clip": true}, "encoding": {"x": {"field": "x", "type": "quantitative", "bin": {"binned": true, "step": 0.2}, "scale": {"domain": [-14.95, 14.72], "nice": false, "zero": false}, "axis": {"values": [-10, -5, 0, 5, 10], "format": "d", "title": "Value"}}}},
                    {"transform": [{"filter": "datum.s === 'S'"}], "mark": {"type": "bar", "opacity": 0.7, "binSpacing": 0, "clip": true}, "encoding": {"x": {"field": "x", "type": "quantitative", "bin": {"binned": true, "step": 0.05}, "scale": {"domain": [-14.95, 14.72], "nice": false, "zero": false}, "axis": {"values": [-10, -5, 0, 5, 10], "format": "d", "title": "Value"}}}}
                  ]
                }
              ],
              "title": {"text": "Distribution of values from the y-axis", "orient": "bottom", "anchor": "end", "frame": "bounds", "font": "Liberation Serif", "fontSize": 28, "fontWeight": "normal", "offset": 33, "dx": 4},
              "resolve": {"scale": {"color": "independent"}, "legend": {"color": "independent"}}
            }
          ],
          "title": {"text": "(b)", "orient": "bottom", "anchor": "start", "frame": "bounds", "font": "Liberation Serif", "fontSize": 28, "fontWeight": "bold", "offset": -28, "dx": 42.5},
          "resolve": {"scale": {"color": "independent"}, "legend": {"color": "independent"}}
        }
      ],
      "spacing": 64,
      "resolve": {"scale": {"color": "independent"}, "legend": {"color": "independent"}}
    },
    {
      "hconcat": [
        {
          "vconcat": [
            {
              "vconcat": [
                {
                  "width": 440, "height": 408,
                  "title": {"text": "Sample distribution, Z-axis", "frame": "group"},
                  "data": {"name": "c"},
                  "encoding": {
                    "y": {"field": "n", "type": "quantitative", "stack": null, "scale": {"domain": [0, 2880], "nice": false, "zero": false}, "axis": {"values": [500, 1000, 1500, 2000, 2500], "format": "d", "title": "Frequency"}},
                    "color": {"field": "s", "type": "nominal", "scale": {"domain": ["G", "A", "S"], "range": ["limegreen", "black", "red"]}, "legend": {"title": null, "labelExpr": "datum.label === 'G' ? 'Grass' : datum.label === 'A' ? 'Asphalt' : 'Still'"}}
                  },
                  "layer": [
                    {"transform": [{"filter": "datum.s === 'G'"}], "mark": {"type": "bar", "opacity": 0.7, "binSpacing": 0, "clip": true}, "encoding": {"x": {"field": "x", "type": "quantitative", "bin": {"binned": true, "step": 0.2}, "scale": {"domain": [-4.9, 21.25], "nice": false, "zero": false}, "axis": {"values": [0, 5, 10, 15, 20], "format": "d", "title": "Value"}}}},
                    {"transform": [{"filter": "datum.s === 'A'"}], "mark": {"type": "bar", "opacity": 0.7, "binSpacing": 0, "clip": true}, "encoding": {"x": {"field": "x", "type": "quantitative", "bin": {"binned": true, "step": 0.1}, "scale": {"domain": [-4.9, 21.25], "nice": false, "zero": false}, "axis": {"values": [0, 5, 10, 15, 20], "format": "d", "title": "Value"}}}},
                    {"transform": [{"filter": "datum.s === 'S'"}], "mark": {"type": "bar", "opacity": 0.7, "binSpacing": 0, "clip": true}, "encoding": {"x": {"field": "x", "type": "quantitative", "bin": {"binned": true, "step": 0.05}, "scale": {"domain": [-4.9, 21.25], "nice": false, "zero": false}, "axis": {"values": [0, 5, 10, 15, 20], "format": "d", "title": "Value"}}}}
                  ]
                }
              ],
              "title": {"text": "Distribution of values from the z-axis", "orient": "bottom", "anchor": "end", "frame": "bounds", "font": "Liberation Serif", "fontSize": 28, "fontWeight": "normal", "offset": 33, "dx": 4},
              "resolve": {"scale": {"color": "independent"}, "legend": {"color": "independent"}}
            }
          ],
          "title": {"text": "(c)", "orient": "bottom", "anchor": "start", "frame": "bounds", "font": "Liberation Serif", "fontSize": 28, "fontWeight": "bold", "offset": -28, "dx": 42.5},
          "resolve": {"scale": {"color": "independent"}, "legend": {"color": "independent"}}
        }
      ],
      "resolve": {"scale": {"color": "independent"}, "legend": {"color": "independent"}}
    }
  ]
}
